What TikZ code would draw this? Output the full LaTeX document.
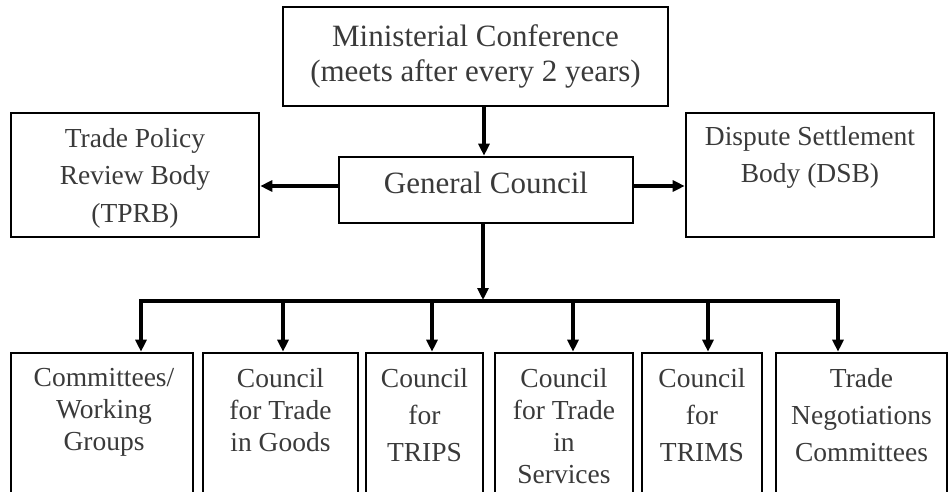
\documentclass[tikz,border=0pt]{standalone}
\usepackage{fontspec}
\setmainfont{Liberation Serif}
\usetikzlibrary{arrows.meta}
\definecolor{txt}{HTML}{3A3A3A}
\begin{document}
\begin{tikzpicture}[x=1pt,y=-1pt,
  box/.style={draw=black,line width=2.6pt,inner sep=0pt,rectangle},
  big/.style={font=\fontsize{31}{35}\selectfont,text=txt,align=center,inner sep=0pt},
  mid/.style={font=\fontsize{27.5}{37.5}\selectfont,text=txt,align=center,inner sep=0pt},
  tight/.style={font=\fontsize{27.5}{32}\selectfont,text=txt,align=center,inner sep=0pt},
  wide/.style={font=\fontsize{27.5}{37}\selectfont,text=txt,align=center,inner sep=0pt},
  conn/.style={line width=3.2pt},
  arr/.style={line width=3.2pt,-{Triangle[length=12pt,width=11pt]}}]
\useasboundingbox (0,0) rectangle (948,491);
\clip (0,0) rectangle (948,491);

% top level
\node[box,minimum width=385pt,minimum height=99pt] (mc) at (475.5,56.5) {};
\node[big,anchor=north] (mct) at (475.5,24) {Ministerial Conference\\(meets after every 2 years)};

\node[box,minimum width=294pt,minimum height=66pt] (gc) at (486,190) {};
\node[big,anchor=base] (gct) at (486,193) {General Council};

\node[box,minimum width=248pt,minimum height=124pt] (tprb) at (135,175) {};
\node[mid,anchor=north] (tprbt) at (135,128) {Trade Policy\\Review Body\\(TPRB)};

\node[box,minimum width=248pt,minimum height=124pt] (dsb) at (810,175) {};
\node[mid,anchor=north] (dsbt) at (810,126) {Dispute Settlement\\Body (DSB)};

% bottom row
\node[box,minimum width=182pt,minimum height=142pt] (b1) at (102,424) {};
\node[box,minimum width=155pt,minimum height=142pt] (b2) at (280.5,424) {};
\node[box,minimum width=117pt,minimum height=142pt] (b3) at (424.5,424) {};
\node[box,minimum width=138pt,minimum height=142pt] (b4) at (564,424) {};
\node[box,minimum width=120pt,minimum height=142pt] (b5) at (702,424) {};
\node[box,minimum width=171pt,minimum height=142pt] (b6) at (861.5,424) {};

\node[tight,anchor=north] (b1t) at (104,368) {Committees/\\Working\\Groups};
\node[tight,anchor=north] (b2t) at (280.5,368) {Council\\for Trade\\in Goods};
\node[wide,anchor=north] (b3t) at (424.5,368) {Council\\for\\TRIPS};
\node[tight,anchor=north] (b4t) at (564,368) {Council\\for Trade\\in\\Services};
\node[wide,anchor=north] (b5t) at (702,368) {Council\\for\\TRIMS};
\node[wide,anchor=north] (b6t) at (861.5,368) {Trade\\Negotiations\\Committees};

% connectors
\coordinate (ax) at (484,0);
\draw[arr] (mc.south -| ax) -- (gc.north -| ax);

\coordinate (ay) at (0,186);
\draw[arr] (gc.west |- ay) -- (tprb.east |- ay);
\draw[arr] (gc.east |- ay) -- (dsb.west |- ay);

\coordinate (bus) at (483,300);
\draw[arr] (gc.south -| bus) -- (bus);

\coordinate (d1) at (141,301);
\coordinate (d2) at (283,301);
\coordinate (d3) at (432,301);
\coordinate (d4) at (573,301);
\coordinate (d5) at (708,301);
\coordinate (d6) at (838,301);
\draw[conn,line cap=rect] (d1) -- (d6);
\draw[arr] (d1) -- (d1 |- b1.north);
\draw[arr] (d2) -- (d2 |- b2.north);
\draw[arr] (d3) -- (d3 |- b3.north);
\draw[arr] (d4) -- (d4 |- b4.north);
\draw[arr] (d5) -- (d5 |- b5.north);
\draw[arr] (d6) -- (d6 |- b6.north);
\end{tikzpicture}
\end{document}
